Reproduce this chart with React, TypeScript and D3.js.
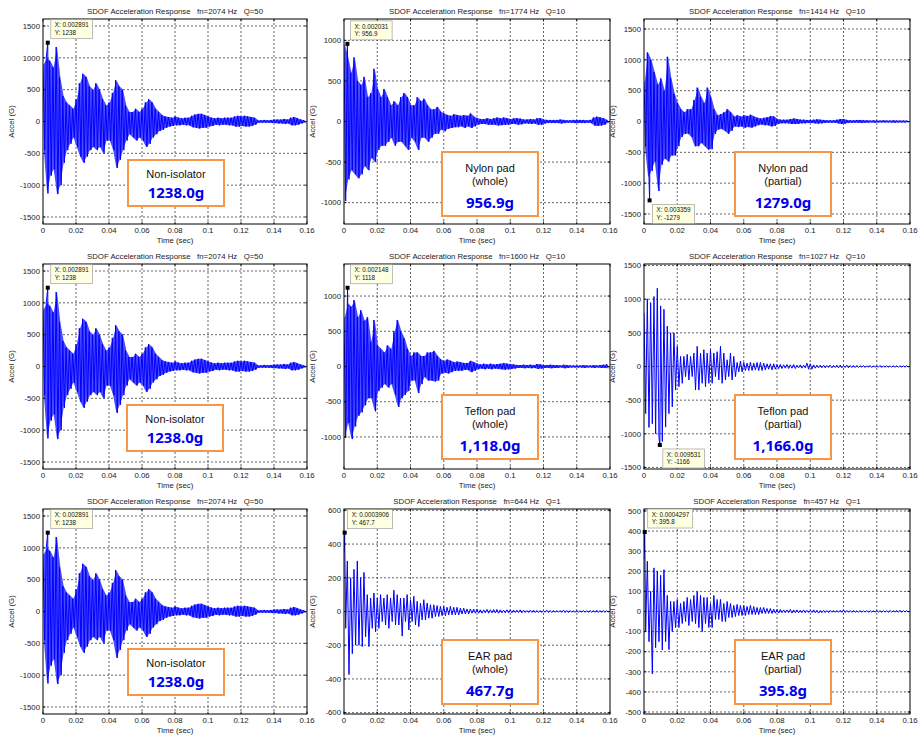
import React from "react";
import * as d3 from "d3";

// ---------------- DATA ----------------
const T_STEP = 0.002; // envelope bin width (s)
const X_TICKS = [0, 0.02, 0.04, 0.06, 0.08, 0.1, 0.12, 0.14, 0.16];
const X_TICK_LABELS = ["0", "0.02", "0.04", "0.06", "0.08", "0.1", "0.12", "0.14", "0.16"];
const X_DOMAIN = [0, 0.16];

// Non-isolator, fn=2074 Hz Q=50 (per-bin max / min, G)
const nonIsoMax = [
  900, 1000, 950, 850, 1170, 700, 400, 300, 250, 200,
  350, 600, 750, 700, 550, 500, 600, 500, 350, 250,
  300, 450, 650, 550, 500, 250, 150, 150, 200, 150,
  200, 300, 350, 300, 200, 150, 100, 80, 70, 60,
  80, 60, 50, 60, 60, 90, 110, 120, 120, 100,
  80, 60, 50, 60, 50, 60, 60, 60, 80, 90,
  80, 90, 80, 70, 60, 20, 20, 25, 20, 25,
  30, 30, 30, 40, 30, 60, 70, 50, 30, 20,
];
const nonIsoMin = [
  -450, -1130, -850, -750, -1140, -1000, -650, -450, -350, -250,
  -400, -550, -650, -550, -450, -400, -450, -400, -500, -300,
  -300, -450, -730, -600, -450, -300, -200, -250, -300, -250,
  -300, -400, -350, -250, -200, -150, -130, -100, -80, -70,
  -60, -60, -50, -60, -60, -90, -100, -110, -100, -100,
  -80, -70, -50, -60, -50, -50, -60, -60, -80, -80,
  -70, -80, -80, -70, -50, -20, -20, -20, -20, -25,
  -25, -30, -30, -40, -30, -60, -60, -50, -30, -20,
];

// Nylon pad (whole), fn=1774 Hz Q=10
const nylonWholeMax = [
  950, 800, 600, 790, 500, 450, 550, 300, 350, 650,
  400, 300, 400, 300, 200, 250, 200, 300, 350, 300,
  200, 200, 300, 250, 280, 200, 150, 150, 180, 120,
  100, 80, 70, 90, 80, 70, 80, 70, 100, 60,
  40, 30, 30, 40, 30, 40, 50, 40, 50, 40,
  30, 40, 40, 35, 25, 25, 30, 25, 40, 40,
  25, 20, 20, 20, 20, 25, 20, 15, 15, 20,
  20, 20, 20, 15, 20, 50, 60, 50, 40, 20,
];
const nylonWholeMin = [
  -980, -714, -600, -650, -700, -650, -550, -600, -450, -500,
  -350, -300, -300, -250, -200, -300, -250, -250, -300, -350,
  -200, -250, -350, -200, -200, -250, -200, -150, -150, -100,
  -120, -90, -80, -70, -70, -60, -80, -60, -80, -60,
  -40, -30, -30, -40, -40, -40, -50, -45, -40, -40,
  -30, -30, -40, -35, -25, -25, -30, -25, -40, -40,
  -25, -20, -20, -20, -20, -25, -20, -15, -15, -20,
  -20, -20, -20, -15, -20, -50, -55, -50, -40, -20,
];

// Nylon pad (partial), fn=1414 Hz Q=10
const nylonPartMax = [
  650, 1120, 1000, 800, 600, 700, 500, 1050, 700, 450,
  300, 200, 150, 200, 200, 350, 550, 400, 300, 550,
  400, 200, 100, 120, 150, 200, 150, 80, 100, 80,
  100, 90, 110, 80, 60, 50, 60, 70, 90, 80,
  40, 30, 30, 30, 40, 50, 40, 30, 30, 25,
  25, 30, 35, 30, 25, 20, 20, 20, 30, 40,
  40, 25, 20, 20, 25, 25, 20, 20, 15, 20,
  15, 15, 20, 15, 15, 20, 15, 15, 15, 15,
];
const nylonPartMin = [
  -400, -900, -800, -650, -1128, -700, -600, -650, -550, -550,
  -400, -250, -200, -200, -250, -400, -400, -350, -400, -453,
  -450, -200, -130, -120, -150, -200, -150, -80, -90, -80,
  -100, -90, -100, -80, -60, -50, -60, -60, -80, -70,
  -40, -30, -30, -30, -40, -40, -40, -30, -30, -25,
  -25, -30, -35, -30, -25, -20, -20, -20, -30, -40,
  -35, -25, -20, -20, -20, -25, -20, -20, -15, -20,
  -15, -15, -15, -15, -15, -20, -15, -15, -15, -15,
];

// Teflon pad (whole), fn=1600 Hz Q=10
const teflonWholeMax = [
  700, 900, 850, 943, 700, 800, 650, 700, 350, 660,
  300, 250, 200, 300, 250, 500, 660, 500, 400, 250,
  150, 200, 200, 150, 150, 200, 200, 222, 150, 100,
  80, 100, 80, 60, 70, 60, 50, 50, 80, 60,
  40, 30, 40, 30, 40, 30, 35, 40, 50, 40,
  35, 30, 20, 20, 25, 20, 25, 20, 35, 30,
  20, 20, 25, 20, 20, 15, 25, 20, 15, 15,
  15, 15, 20, 15, 15, 20, 15, 20, 25, 30,
];
const teflonWholeMin = [
  -1014, -800, -1030, -850, -700, -650, -550, -450, -450, -637,
  -350, -300, -250, -300, -250, -400, -575, -450, -400, -350,
  -200, -200, -377, -250, -150, -200, -200, -212, -200, -100,
  -90, -100, -80, -60, -60, -60, -50, -50, -80, -60,
  -40, -30, -40, -30, -40, -30, -35, -40, -45, -40,
  -35, -30, -20, -20, -25, -20, -25, -20, -35, -30,
  -20, -20, -25, -20, -20, -15, -25, -20, -15, -15,
  -15, -15, -20, -15, -15, -20, -15, -20, -20, -25,
];

// Teflon pad (partial), fn=1027 Hz Q=10
const teflonPartMax = [
  790, 1005, 950, 1040, 1163, 900, 850, 600, 500, 500,
  300, 150, 150, 180, 150, 200, 300, 200, 250, 200,
  250, 200, 220, 300, 200, 100, 200, 150, 60, 80,
  60, 50, 60, 50, 60, 60, 50, 40, 40, 40,
  30, 30, 25, 30, 25, 30, 20, 25, 20, 50,
  40, 25, 20, 20, 20, 15, 20, 15, 20, 20,
  15, 20, 15, 15, 15, 10, 15, 10, 15, 10,
  10, 15, 10, 10, 10, 10, 10, 10, 10, 10,
];
const teflonPartMin = [
  -700, -905, -850, -1000, -1050, -1114, -900, -700, -600, -350,
  -300, -250, -150, -200, -150, -350, -350, -250, -300, -250,
  -250, -150, -200, -250, -200, -150, -200, -150, -80, -80,
  -60, -60, -60, -50, -60, -60, -50, -40, -50, -40,
  -30, -30, -25, -30, -25, -30, -20, -25, -20, -40,
  -40, -25, -20, -20, -20, -15, -20, -15, -20, -20,
  -15, -20, -15, -15, -15, -10, -15, -10, -15, -10,
  -10, -15, -10, -10, -10, -10, -10, -10, -10, -10,
];

// EAR pad (whole), fn=644 Hz Q=1
const earWholeMax = [
  350, 300, 200, 250, 300, 200, 232, 100, 80, 110,
  80, 100, 80, 100, 80, 126, 100, 80, 80, 100,
  70, 90, 60, 50, 70, 50, 40, 40, 35, 30,
  30, 25, 30, 25, 25, 20, 20, 15, 15, 15,
  15, 10, 10, 12, 10, 12, 12, 10, 8, 10,
  10, 8, 8, 10, 8, 6, 8, 8, 6, 6,
  6, 8, 6, 6, 6, 6, 8, 6, 6, 5,
  6, 5, 6, 5, 6, 6, 8, 6, 6, 5,
];
const earWholeMin = [
  -100, -374, -250, -200, -200, -208, -150, -208, -100, -120,
  -100, -60, -80, -100, -60, -80, -80, -146, -60, -110,
  -60, -80, -90, -50, -50, -40, -40, -30, -30, -25,
  -25, -20, -20, -20, -20, -15, -15, -15, -10, -10,
  -10, -10, -8, -10, -8, -8, -10, -8, -8, -8,
  -8, -6, -6, -8, -6, -6, -6, -6, -6, -6,
  -5, -6, -6, -5, -5, -5, -6, -6, -5, -5,
  -5, -5, -5, -5, -5, -5, -6, -5, -5, -5,
];

// EAR pad (partial), fn=457 Hz Q=1
const earPartMax = [
  260, 250, 100, 217, 200, 180, 208, 80, 50, 50,
  60, 40, 50, 70, 60, 80, 100, 80, 70, 70,
  40, 80, 60, 60, 40, 50, 40, 30, 35, 30,
  30, 25, 30, 25, 20, 20, 20, 15, 15, 12,
  10, 10, 8, 8, 10, 8, 8, 6, 8, 6,
  6, 8, 6, 5, 6, 5, 6, 5, 5, 6,
  8, 5, 5, 5, 4, 5, 4, 5, 4, 4,
  5, 4, 4, 4, 5, 4, 5, 6, 5, 4,
];
const earPartMin = [
  -100, -150, -310, -180, -150, -192, -150, -190, -100, -80,
  -80, -60, -50, -70, -50, -60, -80, -100, -60, -80,
  -80, -40, -40, -50, -50, -30, -30, -25, -20, -20,
  -20, -15, -15, -15, -15, -10, -10, -10, -10, -8,
  -8, -6, -6, -6, -8, -6, -6, -6, -6, -5,
  -5, -6, -8, -6, -5, -5, -4, -4, -4, -4,
  -5, -4, -4, -4, -4, -4, -3, -4, -3, -3,
  -3, -3, -3, -3, -3, -3, -3, -4, -3, -3,
];

// Panel meta
const PANEL_FN = [2074, 1774, 1414, 2074, 1600, 1027, 2074, 644, 457];
const PANEL_Q = [50, 10, 10, 50, 10, 10, 50, 1, 1];
const PANEL_YMAX = [1610, 1263, 1662, 1610, 1455, 1523, 1610, 608, 510];
const TICKS_1500 = [-1500, -1000, -500, 0, 500, 1000, 1500];
const TICKS_1000 = [-1000, -500, 0, 500, 1000];
const TICKS_600 = [-600, -400, -200, 0, 200, 400, 600];
const TICKS_500 = [-500, -400, -300, -200, -100, 0, 100, 200, 300, 400, 500];
const PANEL_YTICKS = [TICKS_1500, TICKS_1000, TICKS_1500, TICKS_1500, TICKS_1000, TICKS_1500, TICKS_1500, TICKS_600, TICKS_500];
const PANEL_MAX = [nonIsoMax, nylonWholeMax, nylonPartMax, nonIsoMax, teflonWholeMax, teflonPartMax, nonIsoMax, earWholeMax, earPartMax];
const PANEL_MIN = [nonIsoMin, nylonWholeMin, nylonPartMin, nonIsoMin, teflonWholeMin, teflonPartMin, nonIsoMin, earWholeMin, earPartMin];
const TIP_X = [0.002891, 0.002031, 0.003359, 0.002891, 0.002148, 0.009531, 0.002891, 0.0003906, 0.0004297];
const TIP_Y = [1238, 956.9, -1279, 1238, 1118, -1166, 1238, 467.7, 395.8];
const TIP_X_LABEL = ["0.002891", "0.002031", "0.003359", "0.002891", "0.002148", "0.009531", "0.002891", "0.0003906", "0.0004297"];
const TIP_Y_LABEL = ["1238", "956.9", "-1279", "1238", "1118", "-1166", "1238", "467.7", "395.8"];
const BOX_LINES = [
  ["Non-isolator"], ["Nylon pad", "(whole)"], ["Nylon pad", "(partial)"],
  ["Non-isolator"], ["Teflon pad", "(whole)"], ["Teflon pad", "(partial)"],
  ["Non-isolator"], ["EAR pad", "(whole)"], ["EAR pad", "(partial)"],
];
const BOX_VALUE = ["1238.0g", "956.9g", "1279.0g", "1238.0g", "1,118.0g", "1,166.0g", "1238.0g", "467.7g", "395.8g"];

// ---------------- LAYOUT / STYLE ----------------
const COL_LEFT = [43, 344, 644];
const COL_W = [264, 266, 266];
const ROW_TOP = [19, 264, 509];
const PLOT_H = 205;
const BOX_POS = [
  [85, 141], [98, 133], [91, 133],
  [84, 141], [98, 131], [91, 131],
  [85, 140], [98, 131], [91, 131],
];
// dense high-frequency traces get a filled envelope underneath the trace
const PANEL_DENSE = [true, true, true, true, true, false, true, false, false];
const AX_FONT = "'Liberation Sans', Arial, Helvetica, sans-serif";

function Panel({ idx }: { idx: number }) {
  const col = idx % 3;
  const row = Math.floor(idx / 3);
  const left = COL_LEFT[col];
  const top = ROW_TOP[row];
  const w = COL_W[col];
  const h = PLOT_H;
  const yMax = PANEL_YMAX[idx];
  const x = d3.scaleLinear().domain(X_DOMAIN).range([0, w]);
  const y = d3.scaleLinear().domain([-yMax, yMax]).range([h, 0]);

  const maxArr = PANEL_MAX[idx];
  const minArr = PANEL_MIN[idx];
  const pts: [number, number][] = [];
  maxArr.forEach((v, i) => {
    pts.push([i * T_STEP, v]);
    pts.push([i * T_STEP + T_STEP / 2, minArr[i]]);
  });
  pts.push([TIP_X[idx], TIP_Y[idx]]);
  pts.sort((a, b) => a[0] - b[0]);
  const line = d3.line<[number, number]>().x((d) => x(d[0])).y((d) => y(d[1]));

  const env = maxArr.map((v, i) => ({ t: i * T_STEP + T_STEP / 4, hi: v, lo: minArr[i] }));
  const area = d3
    .area<{ t: number; hi: number; lo: number }>()
    .x((d) => x(d.t))
    .y0((d) => y(d.lo * 0.999))
    .y1((d) => y(d.hi * 0.999));

  const mx = x(TIP_X[idx]);
  const my = y(TIP_Y[idx]);
  const tipLines = ["X: " + TIP_X_LABEL[idx], "Y: " + TIP_Y_LABEL[idx]];
  const tipW = 6 + Math.max(...tipLines.map((s) => s.length)) * 3.25;
  const tipH = 19;
  const below = TIP_Y[idx] < 0;
  const tipLeft = mx + 3;
  const tipTop = below ? my + 4 : Math.max(0, my - 4 - tipH);

  const lines = BOX_LINES[idx];
  const two = lines.length === 2;
  const bw = 96;
  const bh = two ? 64 : 46;
  const [bx, by] = BOX_POS[idx];
  const clipId = `clip-${idx}`;
  const yTicks = PANEL_YTICKS[idx];

  return (
    <g transform={`translate(${left},${top})`}>
      <defs>
        <clipPath id={clipId}>
          <rect x={0} y={0} width={w} height={h} />
        </clipPath>
      </defs>
      <rect x={0} y={0} width={w} height={h} fill="#fff" />
      {/* grid */}
      {X_TICKS.slice(1, -1).map((t) => (
        <line key={"gx" + t} x1={x(t)} x2={x(t)} y1={0} y2={h} stroke="#222" strokeWidth={0.7} strokeDasharray="2,2" />
      ))}
      {yTicks.map((t) => (
        <line key={"gy" + t} x1={0} x2={w} y1={y(t)} y2={y(t)} stroke="#222" strokeWidth={0.7} strokeDasharray="2,2" />
      ))}
      {/* signal */}
      <g clipPath={`url(#${clipId})`}>
        {PANEL_DENSE[idx] && <path d={area(env) || ""} fill="#4a4aff" stroke="none" />}
        <path d={line(pts) || ""} fill="none" stroke="#0000ff" strokeWidth={1} strokeLinejoin="round" />
      </g>
      {/* border + ticks */}
      <rect x={0} y={0} width={w} height={h} fill="none" stroke="#000" strokeWidth={1} />
      {X_TICKS.map((t) => (
        <g key={"tx" + t}>
          <line x1={x(t)} x2={x(t)} y1={h} y2={h - 2.5} stroke="#000" strokeWidth={0.8} />
          <line x1={x(t)} x2={x(t)} y1={0} y2={2.5} stroke="#000" strokeWidth={0.8} />
        </g>
      ))}
      {yTicks.map((t) => (
        <g key={"ty" + t}>
          <line x1={0} x2={2.5} y1={y(t)} y2={y(t)} stroke="#000" strokeWidth={0.8} />
          <line x1={w} x2={w - 2.5} y1={y(t)} y2={y(t)} stroke="#000" strokeWidth={0.8} />
        </g>
      ))}
      {/* tick labels */}
      {X_TICKS.map((t, i) => (
        <text key={"lx" + t} x={x(t)} y={h + 9} textAnchor="middle" fontSize={7.8} fontFamily={AX_FONT} fill="#222">
          {X_TICK_LABELS[i]}
        </text>
      ))}
      {yTicks.map((t) => (
        <text key={"ly" + t} x={-3} y={y(t)} dy="0.35em" textAnchor="end" fontSize={7.8} fontFamily={AX_FONT} fill="#222">
          {String(t)}
        </text>
      ))}
      {/* titles */}
      <text x={w / 2} y={-5.5} textAnchor="middle" fontSize={7.8} fontFamily={AX_FONT} fill="#222" style={{ whiteSpace: "pre" }}>
        {`SDOF Acceleration Response   fn=${PANEL_FN[idx]} Hz   Q=${PANEL_Q[idx]}`}
      </text>
      <text x={w / 2} y={h + 19} textAnchor="middle" fontSize={7.8} fontFamily={AX_FONT} fill="#222">
        Time (sec)
      </text>
      <text transform={`translate(${-32},${h / 2}) rotate(-90)`} textAnchor="middle" dy="0.35em" fontSize={7.8} fontFamily={AX_FONT} fill="#222">
        Accel (G)
      </text>
      {/* annotation box */}
      <rect x={bx} y={by} width={bw} height={bh} fill="#fff" stroke="#f79646" strokeWidth={2} />
      {lines.map((s, i) => (
        <text key={"bl" + i} x={bx + bw / 2} y={by + (two ? 16.5 + i * 13 : 14)} dy="0.35em" textAnchor="middle" fontSize={11} fontFamily={AX_FONT} fill="#111">
          {s}
        </text>
      ))}
      <text x={bx + bw / 2} y={by + (two ? 50.5 : 33)} dy="0.36em" textAnchor="middle" fontSize={15} fontWeight="bold" fontFamily="'Noto Sans', 'Open Sans', sans-serif" fill="#0000ee">
        {BOX_VALUE[idx]}
      </text>
      {/* data tip */}
      <rect x={mx - 2} y={my - 2} width={4} height={4} fill="#000" />
      <rect x={tipLeft} y={tipTop} width={tipW} height={tipH} fill="#ffffe1" stroke="#a0a0a0" strokeWidth={0.7} />
      {tipLines.map((s, i) => (
        <text key={"tl" + i} x={tipLeft + 4} y={tipTop + 5.5 + i * 7.7} dy="0.35em" fontSize={6.3} fontFamily={AX_FONT} fill="#111">
          {s}
        </text>
      ))}
    </g>
  );
}

export default function App() {
  return (
    <svg width={918} height={739} style={{ position: "absolute", left: 0, top: 0, background: "#fff" }}>
      <rect x={0} y={0} width={918} height={739} fill="#fff" />
      {PANEL_FN.map((_, i) => (
        <Panel key={i} idx={i} />
      ))}
    </svg>
  );
}
